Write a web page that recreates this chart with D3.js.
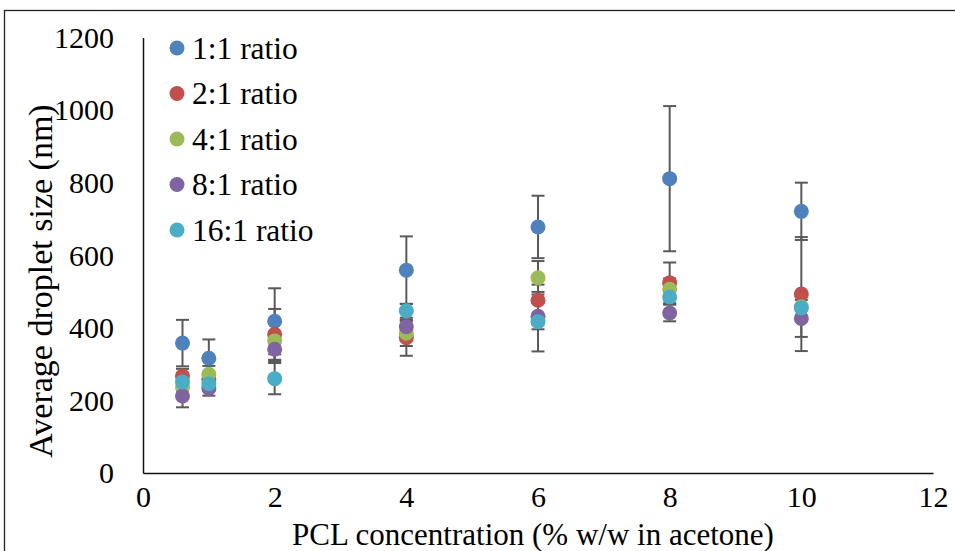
<!DOCTYPE html>
<html>
<head>
<meta charset="utf-8">
<script src="https://cdn.jsdelivr.net/npm/d3@7"></script>
<style>
  body { margin: 0; background: #fff; }
  text { font-family: "Liberation Serif", "Times New Roman", serif; fill: #000; }
</style>
</head>
<body>
<div id="chart"></div>
<script>
// PCL droplet size vs concentration, one series per ratio
const width = 955;
const height = 551;
const margin = { top: 37.5, right: 22, bottom: 78, left: 143 };
const serif = '"Liberation Serif", "Times New Roman", serif';

const concentrations = [0.6, 1, 2, 4, 6, 8, 10];
const seriesNames = ['1:1 ratio', '2:1 ratio', '4:1 ratio', '8:1 ratio', '16:1 ratio'];
const seriesColors = ['#4f81bd', '#c0504d', '#9bbb59', '#8064a2', '#4bacc6'];

const ratio1 = [358, 316, 418, 559, 678, 811, 721];
const ratio1Err = [64, 52, 91, 93, 86, 200, 79];
const ratio2 = [267, 258, 382, 373, 476, 524, 493];
const ratio2Err = [20, 20, 70, 50, 43, 56, 157];
const ratio4 = [236, 272, 364, 385, 538, 506, 458];
const ratio4Err = [20, 23, 58, 35, 46, 30, 40];
const ratio8 = [212, 233, 341, 403, 432, 441, 426];
const ratio8Err = [31, 20, 30, 15, 36, 23, 51];
const ratio16 = [251, 246, 260, 447, 417, 485, 455];
const ratio16Err = [25, 20, 43, 19, 82, 20, 30];

const xTicks = [0, 2, 4, 6, 8, 10, 12];
const yTicks = [0, 200, 400, 600, 800, 1000, 1200];

const series = [
    { name: seriesNames[0], color: seriesColors[0], values: ratio1, errs: ratio1Err },
    { name: seriesNames[1], color: seriesColors[1], values: ratio2, errs: ratio2Err },
    { name: seriesNames[2], color: seriesColors[2], values: ratio4, errs: ratio4Err },
    { name: seriesNames[3], color: seriesColors[3], values: ratio8, errs: ratio8Err },
    { name: seriesNames[4], color: seriesColors[4], values: ratio16, errs: ratio16Err }
];

const svg = d3.select('#chart')
    .append('svg')
    .attr('width', width)
    .attr('height', height)
    .style('font-family', serif);

// outer chart frame (runs off the right and bottom edges)
svg.append('rect')
    .attr('x', 4.5).attr('y', 10.5)
    .attr('width', 1000).attr('height', 600)
    .attr('fill', 'none')
    .attr('stroke', '#222')
    .attr('stroke-width', 1.3);

const x = d3.scaleLinear().domain([0, 12]).range([margin.left, width - margin.right]);
const y = d3.scaleLinear().domain([0, 1200]).range([height - margin.bottom, margin.top]);

// axes (lines only, no tick marks)
const xAxis = svg.append('g')
    .attr('transform', `translate(0,${y(0)})`)
    .call(d3.axisBottom(x).tickValues(xTicks).tickSize(0).tickPadding(28).tickFormat(d3.format('d')));
const yAxis = svg.append('g')
    .attr('transform', `translate(${x(0)},0)`)
    .call(d3.axisLeft(y).tickValues(yTicks).tickSize(0).tickPadding(29).tickFormat(d3.format('d')));

[xAxis, yAxis].forEach(g => {
    g.attr('font-family', serif);
    g.select('.domain').attr('stroke', '#111').attr('stroke-width', 1.5);
    g.selectAll('text')
        .style('font-family', serif)
        .style('font-size', '30px')
        .attr('fill', '#000');
});
yAxis.selectAll('text').attr('dy', '0.33em');
xAxis.selectAll('text').attr('dy', '0.2em');

// axis titles
svg.append('text')
    .attr('x', (x(0) + x(12)) / 2 - 5)
    .attr('y', 545)
    .attr('text-anchor', 'middle')
    .style('font-family', serif)
    .style('font-size', '31px')
    .text('PCL concentration (% w/w in acetone)');

svg.append('text')
    .attr('transform', `translate(52,${281}) rotate(-90)`)
    .attr('text-anchor', 'middle')
    .style('font-family', serif)
    .style('font-size', '34px')
    .text('Average droplet size (nm)');

// error bars first, then markers on top
const capHalf = 6.5;
const bars = svg.append('g');
series.forEach(s => {
    s.values.forEach((v, i) => {
        const cx = x(concentrations[i]);
        const hi = y(v + s.errs[i]);
        const lo = y(v - s.errs[i]);
        bars.append('line')
            .attr('x1', cx).attr('x2', cx).attr('y1', hi).attr('y2', lo)
            .attr('stroke', '#595959').attr('stroke-width', 2);
        [hi, lo].forEach(yy => {
            bars.append('line')
                .attr('x1', cx - capHalf).attr('x2', cx + capHalf)
                .attr('y1', yy).attr('y2', yy)
                .attr('stroke', '#595959').attr('stroke-width', 2);
        });
    });
});

series.forEach(s => {
    svg.append('g')
        .selectAll('circle')
        .data(s.values)
        .enter()
        .append('circle')
        .attr('cx', (d, i) => x(concentrations[i]))
        .attr('cy', d => y(d))
        .attr('r', 7.5)
        .attr('fill', s.color);
});

// legend
const legend = svg.append('g').attr('transform', 'translate(177,48)');
series.forEach((s, i) => {
    const row = legend.append('g').attr('transform', `translate(0,${i * 45.5})`);
    row.append('circle').attr('r', 7.5).attr('fill', s.color);
    row.append('text')
        .attr('x', 15)
        .attr('y', 10.5)
        .style('font-family', serif)
        .style('font-size', '31.5px')
        .text(s.name);
});
</script>
</body>
</html>
